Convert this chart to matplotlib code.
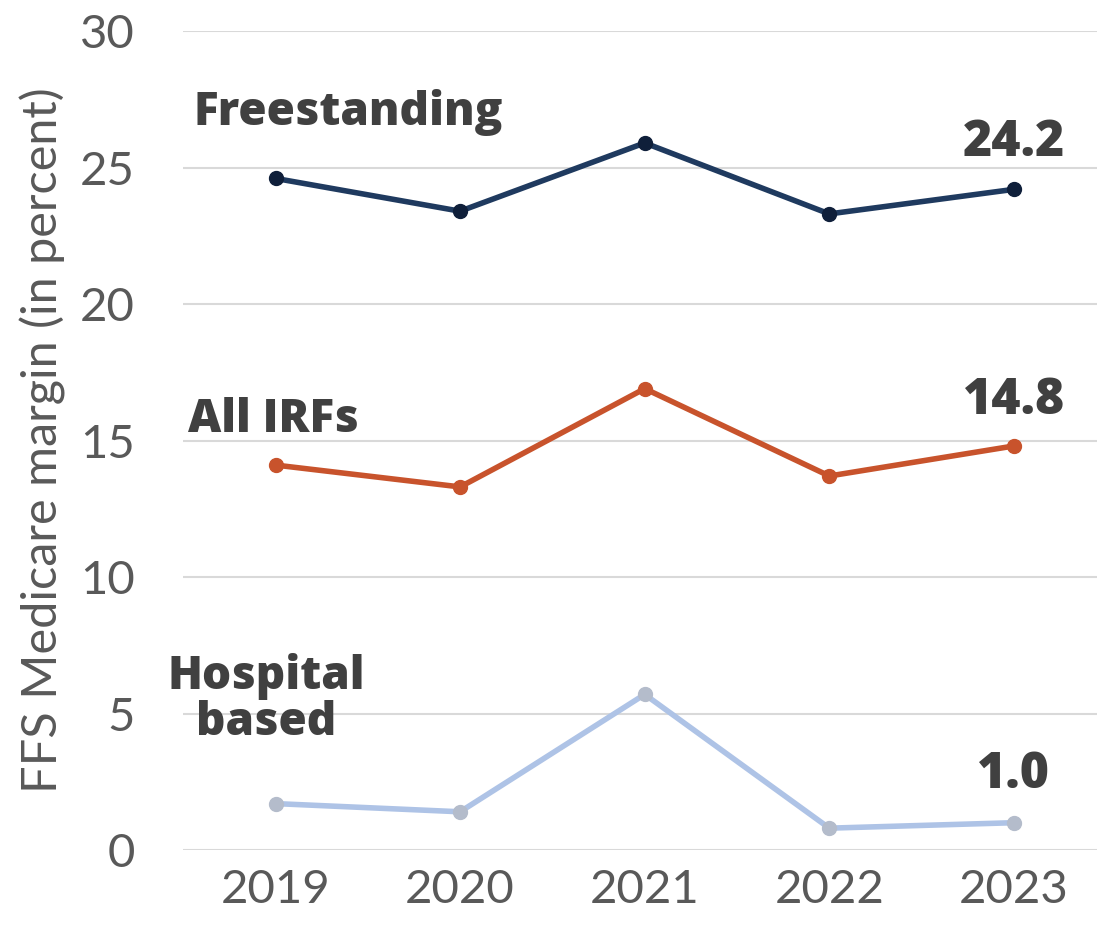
import matplotlib.pyplot as plt

years = ["2019", "2020", "2021", "2022", "2023"]
freestanding = [24.6, 23.4, 25.9, 23.3, 24.2]
all_irfs = [14.1, 13.3, 16.9, 13.7, 14.8]
hospital_based = [1.7, 1.4, 5.7, 0.8, 1.0]

plt.rcParams['font.family'] = ['Lato', 'DejaVu Sans']

fig = plt.figure(figsize=(10.97, 9.31), dpi=100)
ax = fig.add_axes([0.167, 0.087, 0.833, 0.8797])

x = list(range(len(years)))
ax.plot(x, freestanding, color="#1f3a5f", lw=4, marker="o", ms=10,
        mfc="#0f1f3a", mec="#0f1f3a", clip_on=False, zorder=3)
ax.plot(x, all_irfs, color="#c8532c", lw=4, marker="o", ms=10,
        mfc="#c8532c", mec="#c8532c", clip_on=False, zorder=3)
ax.plot(x, hospital_based, color="#aec3e6", lw=4, marker="o", ms=10,
        mfc="#b4bccb", mec="#b4bccb", clip_on=False, zorder=3)

ax.set_xlim(-0.5, 4.45)
ax.set_ylim(0, 30)
ax.set_yticks([0, 5, 10, 15, 20, 25, 30])
ax.set_xticks(x)
ax.set_xticklabels(years)
ax.grid(axis="y", color="#d9d9d9", lw=1.5)
ax.set_axisbelow(True)
for s in ax.spines.values():
    s.set_visible(False)
ax.tick_params(length=0, labelsize=34, labelcolor="#595959", pad=14)
ax.tick_params(axis="y", pad=35)

ax.set_ylabel("FFS Medicare margin (in percent)", fontsize=35, color="#595959",
              labelpad=10)

lbl = dict(fontsize=33, fontweight=800, color="#404040",
           family=["Open Sans", "DejaVu Sans"])
ax.text(-0.446, 27.0, "Freestanding", ha="left", va="center", **lbl)
ax.text(-0.473, 15.75, "All IRFs", ha="left", va="center", **lbl)
ax.text(-0.05, 5.5, "Hospital\nbased", ha="center", va="center",
        linespacing=1.0, **lbl)
num = dict(lbl, fontsize=36)
ax.text(4, freestanding[-1] + 1.7, f"{freestanding[-1]:.1f}", ha="center", va="center", **num)
ax.text(4, all_irfs[-1] + 1.65, f"{all_irfs[-1]:.1f}", ha="center", va="center", **num)
ax.text(4, hospital_based[-1] + 1.75, f"{hospital_based[-1]:.1f}", ha="center", va="center", **num)

fig.savefig("out.png", dpi=100)
